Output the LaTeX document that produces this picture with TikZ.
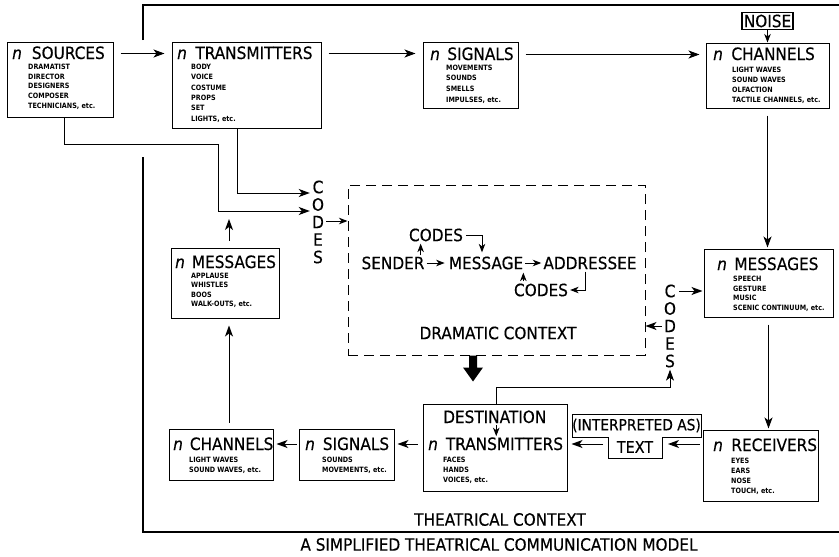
\documentclass[tikz,border=0pt]{standalone}
\usepackage{fontspec}
\setmainfont{DejaVu Sans}
\newfontfamily\hdfont{DejaVu Sans}[FakeStretch=0.9,FakeBold=0.4]
\newfontfamily\smfont{DejaVu Sans}[FakeStretch=0.88]
\usetikzlibrary{arrows.meta,calc}
\begin{document}
\begin{tikzpicture}[x=1pt,y=-1pt,
  box/.style 2 args={draw, line width=1pt, inner sep=0pt, minimum width=#1pt, minimum height=#2pt},
  hd/.style={font=\hdfont\fontsize{17}{20}\selectfont, inner sep=0pt},
  items/.style={font=\smfont\bfseries\fontsize{7.3}{#1}\selectfont, inner sep=0pt, anchor=north west, align=left},
  arr/.style={line width=1pt, -{Stealth[length=11pt,width=8pt,inset=3pt]}},
  sarr/.style={line width=1pt, -{Stealth[length=8.5pt,width=6.5pt,inset=2.5pt]}},
  frame/.style={line width=1.3pt},
  vcodes/.style={hd, align=center, font=\hdfont\fontsize{17}{17.5}\selectfont}
]
\useasboundingbox (0,0) rectangle (839,557);

% ---- frame (theatrical context)
\coordinate (f1) at (143,40); \coordinate (f2) at (143,5); \coordinate (f3) at (839,5);
\coordinate (f4) at (143,157); \coordinate (f5) at (143,532); \coordinate (f6) at (839,532);
\draw[frame] (f1) -- (f2) -- (f3);
\draw[frame] (f4) -- (f5) -- (f6);

% ---- top row
\node[box={106}{75}] (src) at (60,79.5) {};
\node[hd, anchor=base west] (src-h) at (12,59) {\textit{n}\hspace{10pt}SOURCES};
\node[items=9.8] (src-i) at (28,63.7) {DRAMATIST\\DIRECTOR\\DESIGNERS\\COMPOSER\\TECHNICIANS, etc.};

\node[box={149}{86}] (tr1) at (246.5,85) {};
\node[hd, anchor=base west] (tr1-h) at (177,59) {\textit{n}\hspace{8.5pt}TRANSMITTERS};
\node[items=10.4] (tr1-i) at (191,63.7) {BODY\\VOICE\\COSTUME\\PROPS\\SET\\LIGHTS, etc.};

\node[box={95}{66}] (sig1) at (470.5,75) {};
\node[hd, anchor=base west] (sig1-h) at (430,60) {\textit{n}\hspace{7.5pt}SIGNALS};
\node[items=10.6] (sig1-i) at (446,64.7) {MOVEMENTS\\SOUNDS\\SMELLS\\IMPULSES, etc.};

\node[draw, line width=1.1pt, hd, minimum width=51pt, minimum height=17pt] (noise) at (767.5,21) {NOISE};

\node[box={123}{65}] (ch1) at (767.5,75.5) {};
\node[hd, anchor=base west] (ch1-h) at (713,60) {\textit{n}\hspace{8.5pt}CHANNELS};
\node[items=10] (ch1-i) at (732,66.7) {LIGHT WAVES\\SOUND WAVES\\OLFACTION\\TACTILE CHANNELS, etc.};

% ---- right column
\node[box={129}{68}] (msg1) at (768.5,283) {};
\node[hd, anchor=base west] (msg1-h) at (717,270) {\textit{n}\hspace{7.5pt}MESSAGES};
\node[items=9.7] (msg1-i) at (733,275.7) {SPEECH\\GESTURE\\MUSIC\\SCENIC CONTINUUM, etc.};

\node[box={115}{71}] (rcv) at (760.5,465.5) {};
\node[hd, anchor=base west] (rcv-h) at (713,451) {\textit{n}\hspace{8.5pt}RECEIVERS};
\node[items=10] (rcv-i) at (731,457.7) {EYES\\EARS\\NOSE\\TOUCH, etc.};

% ---- (interpreted as) text
\coordinate (ia) at (572,414); \coordinate (ib) at (701,414); \coordinate (ic) at (701,437);
\coordinate (id) at (662,437); \coordinate (ie) at (662,458); \coordinate (if) at (608,458);
\coordinate (ig) at (608,437); \coordinate (ih) at (572,437);
\draw[line width=1pt] (ia) -- (ib) -- (ic) -- (id) -- (ie) -- (if) -- (ig) -- (ih) -- cycle;
\node[hd, font=\hdfont\fontsize{15.3}{18}\selectfont] (interp) at (636.5,425.5) {(INTERPRETED AS)};
\node[hd, font=\hdfont\fontsize{16}{18}\selectfont] (textn) at (635,447) {TEXT};
\coordinate (tR) at (662,444); \coordinate (tL) at (608,444);

% ---- bottom row
\node[box={144}{87}] (tr2) at (495,447.5) {};
\node[hd, anchor=base west] (dest) at (443,423) {DESTINATION};
\node[hd, anchor=base west] (tr2-h) at (428,450) {\textit{n}\hspace{8pt}TRANSMITTERS};
\node[items=10] (tr2-i) at (443,456.7) {FACES\\HANDS\\VOICES, etc.};

\node[box={95}{51}] (sig2) at (346.5,454.5) {};
\node[hd, anchor=base west] (sig2-h) at (305,450) {\textit{n}\hspace{8pt}SIGNALS};
\node[items=10] (sig2-i) at (322,456.7) {SOUNDS\\MOVEMENTS, etc.};

\node[box={104}{51}] (ch2) at (221,454.5) {};
\node[hd, anchor=base west] (ch2-h) at (173,450) {\textit{n}\hspace{7pt}CHANNELS};
\node[items=10] (ch2-i) at (189,456.7) {LIGHT WAVES\\SOUND WAVES, etc.};

% ---- left column
\node[box={108}{70}] (msg2) at (225,283) {};
\node[hd, anchor=base west] (msg2-h) at (175,268) {\textit{n}\hspace{7pt}MESSAGES};
\node[items=9.4] (msg2-i) at (191,272.7) {APPLAUSE\\WHISTLES\\BOOS\\WALK-OUTS, etc.};

% ---- dramatic context
\node[draw, line width=1pt, dash pattern=on 10pt off 6pt, minimum width=297pt, minimum height=170pt] (dc) at (496.5,270) {};
\node[hd] (sender) at (393,263) {SENDER};
\node[hd] (message) at (486,263) {MESSAGE};
\node[hd] (addressee) at (590,263) {ADDRESSEE};
\node[hd] (codesT) at (436,235) {CODES};
\node[hd] (codesB) at (541,290) {CODES};
\node[hd] (dctx) at (498,333) {DRAMATIC CONTEXT};

% ---- vertical CODES
\node[vcodes] (codesL) at (318,222) {C\\O\\D\\E\\S};
\node[vcodes] (codesR) at (670,326) {C\\O\\D\\E\\S};

% ---- labels
\node[hd] (thc) at (500,519.5) {THEATRICAL CONTEXT};
\node[hd] (cap) at (499,544.5) {A SIMPLIFIED THEATRICAL COMMUNICATION MODEL};

% ---- connectors, top row
\draw[arr] ($(src.north east)+(7,12)$) -- ($(tr1.north west)+(-7,12)$);
\draw[arr] ($(tr1.north east)+(7,12)$) -- ($(sig1.north west)+(-7,12)$);
\draw[arr] ($(sig1.north east)+(7,13)$) -- ($(ch1.north west)+(-6,12)$);
\draw[sarr] (noise.south) -- (noise.south |- ch1.north);
\draw[arr, shorten <=7pt, shorten >=1pt] (ch1.south) -- (ch1.south |- msg1.north);
\draw[arr, shorten <=7pt, shorten >=1pt] (msg1.south) -- (msg1.south |- rcv.north);

% ---- bottom row
\coordinate (yA) at (0,444);
\draw[arr, shorten <=3pt, shorten >=6pt] (rcv.west |- tR) -- (tR);
\draw[arr, shorten <=5pt, shorten >=4pt] (tL) -- (tr2.east |- tL);
\draw[arr, shorten <=5pt, shorten >=3pt] (tr2.west |- yA) -- (sig2.east |- yA);
\draw[arr, shorten <=2pt, shorten >=3pt] (sig2.west |- yA) -- (ch2.east |- yA);
\draw[arr, shorten <=6pt, shorten >=7pt] ([xshift=8pt]ch2.north) -- ([xshift=8pt]ch2.north |- msg2.south);

% ---- routes into left CODES
\coordinate (r1) at (64,144); \coordinate (r2) at (218,211); \coordinate (r3) at (237,193);
\draw[arr, shorten >=2pt] (src.south -| r1) -- (r1) -| (r2) -- (codesL.west |- r2);
\draw[arr, shorten >=2pt] (tr1.south -| r3) -- (r3) -- (codesL.west |- r3);
\draw[arr, shorten <=7pt, shorten >=8pt] ([xshift=4pt]msg2.north) -- ([xshift=4pt]msg2.north |- r2);
\coordinate (yD) at (0,221);
\draw[sarr, shorten <=2pt] (codesL.east |- yD) -- (dc.west |- yD);

% ---- right CODES
\coordinate (yC) at (0,291); \coordinate (yD2) at (0,326);
\draw[arr, shorten <=3pt, shorten >=1pt] (codesR.east |- yC) -- (msg1.west |- yC);
\draw[arr, shorten <=2pt] (codesR.west |- yD2) -- (dc.east |- yD2);
\coordinate (j1) at (496,387);
\draw[arr, shorten >=2pt] (tr2.north -| j1) -- (j1) -| (codesR.south);

% ---- big arrow from dramatic context
\coordinate (ba) at ($(dc.south)+(-23.5,0)$);
\fill (ba) ++(-4,0) -- ++(8,0) -- ++(0,12) -- ++(6,0) -- ++(-10,14) -- ++(-10,-14) -- ++(6,0) -- cycle;

% ---- destination arrow
\draw[sarr, shorten <=2pt, shorten >=1pt] ([xshift=1.5pt]dest.south) -- ([xshift=1.5pt]dest.south |- tr2-h.north);

% ---- inner dramatic model arrows
\draw[sarr, shorten <=2pt, shorten >=4pt] (sender.east) -- (message.west);
\draw[sarr, shorten <=2pt, shorten >=2pt] (message.east) -- (addressee.west);
\draw[sarr, shorten <=1pt, shorten >=2pt] ([xshift=-4pt]sender.north east) -- ([xshift=-4pt]sender.north east |- codesT.south);
\draw[sarr, shorten <=3pt, shorten >=4pt] (codesT.east) -| ([xshift=-4pt]message.north);
\draw[sarr, shorten <=2pt, shorten >=2pt] ([xshift=-5pt]addressee.south) |- (codesB.east);
\draw[sarr, shorten <=2pt, shorten >=3pt] (codesB.north -| message.south east) -- (message.south east);
\end{tikzpicture}
\end{document}
